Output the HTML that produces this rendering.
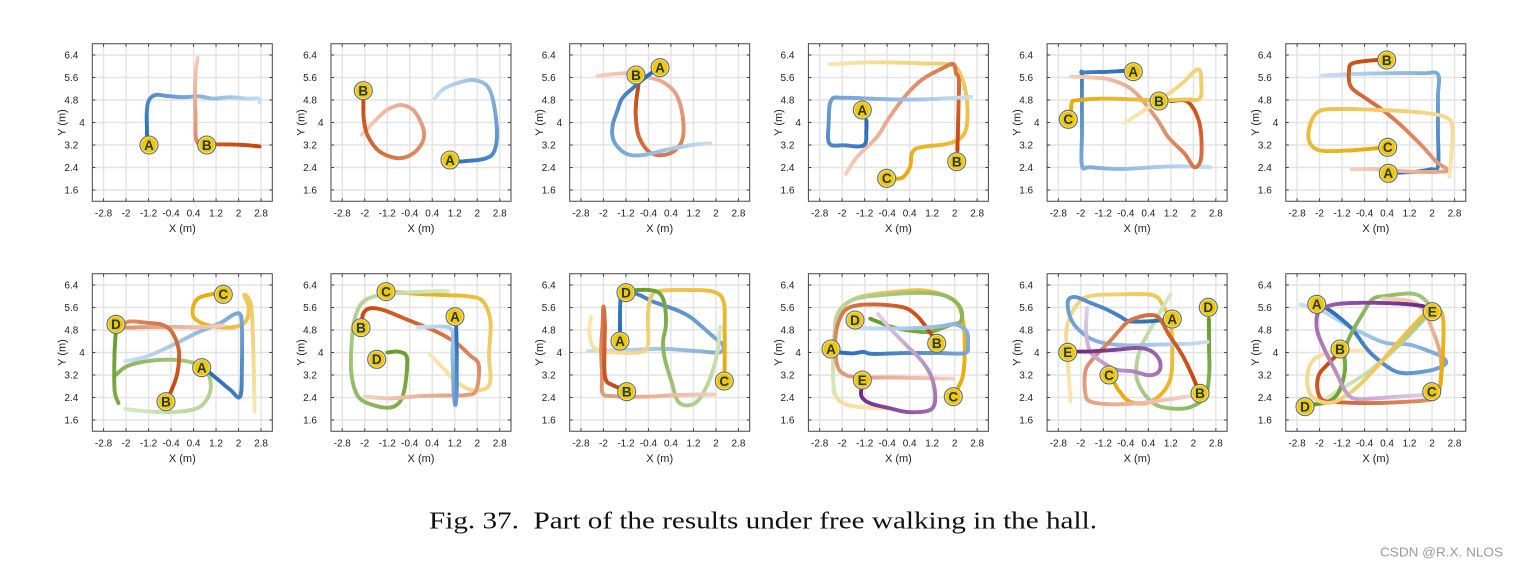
<!DOCTYPE html>
<html><head><meta charset="utf-8">
<style>
html,body{margin:0;padding:0;background:#fff;}
svg{display:block;}
.xt{font-family:"Liberation Sans",sans-serif;font-size:10px;fill:#222;text-anchor:middle;}
.yt{font-family:"Liberation Sans",sans-serif;font-size:10px;fill:#222;text-anchor:end;}
.xl{font-family:"Liberation Sans",sans-serif;font-size:11px;fill:#222;text-anchor:middle;}
.mk circle.o{fill:#f3c60a;stroke:#566e72;stroke-width:1.1;}
.mk circle.i{fill:none;stroke:#fff;stroke-opacity:.55;stroke-width:.8;}
.mk text{font-family:"Liberation Sans",sans-serif;font-weight:bold;font-size:13.5px;fill:#1b3b4a;text-anchor:middle;}
</style></head>
<body>
<svg width="1518" height="566" viewBox="0 0 1518 566" xmlns="http://www.w3.org/2000/svg">
<rect width="1518" height="566" fill="#fff"/>

<!-- Plot 1 -->
<g transform="translate(92.3,43.75)"><g id="p0"></g>
<g class="mk" transform="translate(56.7,101.25)"><circle class="o" r="9"/><circle class="i" r="8"/><text y="4.8">A</text></g>
<g class="mk" transform="translate(114.4,101.25)"><circle class="o" r="9"/><circle class="i" r="8"/><text y="4.8">B</text></g>
<text class="xt" x="11.25" y="172.6">-2.8</text><text class="xt" x="33.75" y="172.6">-2</text><text class="xt" x="56.25" y="172.6">-1.2</text><text class="xt" x="78.75" y="172.6">-0.4</text><text class="xt" x="101.25" y="172.6">0.4</text><text class="xt" x="123.75" y="172.6">1.2</text><text class="xt" x="146.25" y="172.6">2</text><text class="xt" x="168.75" y="172.6">2.8</text><text class="xl" x="90" y="188.3">X (m)</text><text class="yt" x="-14" y="14.85">6.4</text><text class="yt" x="-14" y="37.35">5.6</text><text class="yt" x="-14" y="59.85">4.8</text><text class="yt" x="-7.5" y="82.35">4</text><text class="yt" x="-14" y="104.85">3.2</text><text class="yt" x="-14" y="127.35">2.4</text><text class="yt" x="-14" y="149.85">1.6</text><text class="xl" transform="translate(-26.6,78.75) rotate(-90)">Y (m)</text>
</g>

<!-- Plot 2 -->
<g transform="translate(331,43.75)"><g id="p1"></g>
<g class="mk" transform="translate(32.3,46.9)"><circle class="o" r="9"/><circle class="i" r="8"/><text y="4.8">B</text></g>
<g class="mk" transform="translate(119,116.25)"><circle class="o" r="9"/><circle class="i" r="8"/><text y="4.8">A</text></g>
<text class="xt" x="11.25" y="172.6">-2.8</text><text class="xt" x="33.75" y="172.6">-2</text><text class="xt" x="56.25" y="172.6">-1.2</text><text class="xt" x="78.75" y="172.6">-0.4</text><text class="xt" x="101.25" y="172.6">0.4</text><text class="xt" x="123.75" y="172.6">1.2</text><text class="xt" x="146.25" y="172.6">2</text><text class="xt" x="168.75" y="172.6">2.8</text><text class="xl" x="90" y="188.3">X (m)</text><text class="yt" x="-14" y="14.85">6.4</text><text class="yt" x="-14" y="37.35">5.6</text><text class="yt" x="-14" y="59.85">4.8</text><text class="yt" x="-7.5" y="82.35">4</text><text class="yt" x="-14" y="104.85">3.2</text><text class="yt" x="-14" y="127.35">2.4</text><text class="yt" x="-14" y="149.85">1.6</text><text class="xl" transform="translate(-26.6,78.75) rotate(-90)">Y (m)</text>
</g>

<!-- Plot 3 -->
<g transform="translate(569.7,43.75)"><g id="p2"></g>
<g class="mk" transform="translate(66.3,31.25)"><circle class="o" r="9"/><circle class="i" r="8"/><text y="4.8">B</text></g>
<g class="mk" transform="translate(90.3,23.9)"><circle class="o" r="9"/><circle class="i" r="8"/><text y="4.8">A</text></g>
<text class="xt" x="11.25" y="172.6">-2.8</text><text class="xt" x="33.75" y="172.6">-2</text><text class="xt" x="56.25" y="172.6">-1.2</text><text class="xt" x="78.75" y="172.6">-0.4</text><text class="xt" x="101.25" y="172.6">0.4</text><text class="xt" x="123.75" y="172.6">1.2</text><text class="xt" x="146.25" y="172.6">2</text><text class="xt" x="168.75" y="172.6">2.8</text><text class="xl" x="90" y="188.3">X (m)</text><text class="yt" x="-14" y="14.85">6.4</text><text class="yt" x="-14" y="37.35">5.6</text><text class="yt" x="-14" y="59.85">4.8</text><text class="yt" x="-7.5" y="82.35">4</text><text class="yt" x="-14" y="104.85">3.2</text><text class="yt" x="-14" y="127.35">2.4</text><text class="yt" x="-14" y="149.85">1.6</text><text class="xl" transform="translate(-26.6,78.75) rotate(-90)">Y (m)</text>
</g>

<!-- Plot 4 -->
<g transform="translate(808.4,43.75)"><g id="p3"></g>
<g class="mk" transform="translate(53.9,66.25)"><circle class="o" r="9"/><circle class="i" r="8"/><text y="4.8">A</text></g>
<g class="mk" transform="translate(148.3,117.9)"><circle class="o" r="9"/><circle class="i" r="8"/><text y="4.8">B</text></g>
<g class="mk" transform="translate(78.3,134.6)"><circle class="o" r="9"/><circle class="i" r="8"/><text y="4.8">C</text></g>
<text class="xt" x="11.25" y="172.6">-2.8</text><text class="xt" x="33.75" y="172.6">-2</text><text class="xt" x="56.25" y="172.6">-1.2</text><text class="xt" x="78.75" y="172.6">-0.4</text><text class="xt" x="101.25" y="172.6">0.4</text><text class="xt" x="123.75" y="172.6">1.2</text><text class="xt" x="146.25" y="172.6">2</text><text class="xt" x="168.75" y="172.6">2.8</text><text class="xl" x="90" y="188.3">X (m)</text><text class="yt" x="-14" y="14.85">6.4</text><text class="yt" x="-14" y="37.35">5.6</text><text class="yt" x="-14" y="59.85">4.8</text><text class="yt" x="-7.5" y="82.35">4</text><text class="yt" x="-14" y="104.85">3.2</text><text class="yt" x="-14" y="127.35">2.4</text><text class="yt" x="-14" y="149.85">1.6</text><text class="xl" transform="translate(-26.6,78.75) rotate(-90)">Y (m)</text>
</g>

<!-- Plot 5 -->
<g transform="translate(1047.1,43.75)"><g id="p4"></g>
<g class="mk" transform="translate(86.2,27.9)"><circle class="o" r="9"/><circle class="i" r="8"/><text y="4.8">A</text></g>
<g class="mk" transform="translate(111.9,57.25)"><circle class="o" r="9"/><circle class="i" r="8"/><text y="4.8">B</text></g>
<g class="mk" transform="translate(21.2,75.6)"><circle class="o" r="9"/><circle class="i" r="8"/><text y="4.8">C</text></g>
<text class="xt" x="11.25" y="172.6">-2.8</text><text class="xt" x="33.75" y="172.6">-2</text><text class="xt" x="56.25" y="172.6">-1.2</text><text class="xt" x="78.75" y="172.6">-0.4</text><text class="xt" x="101.25" y="172.6">0.4</text><text class="xt" x="123.75" y="172.6">1.2</text><text class="xt" x="146.25" y="172.6">2</text><text class="xt" x="168.75" y="172.6">2.8</text><text class="xl" x="90" y="188.3">X (m)</text><text class="yt" x="-14" y="14.85">6.4</text><text class="yt" x="-14" y="37.35">5.6</text><text class="yt" x="-14" y="59.85">4.8</text><text class="yt" x="-7.5" y="82.35">4</text><text class="yt" x="-14" y="104.85">3.2</text><text class="yt" x="-14" y="127.35">2.4</text><text class="yt" x="-14" y="149.85">1.6</text><text class="xl" transform="translate(-26.6,78.75) rotate(-90)">Y (m)</text>
</g>

<!-- Plot 6 -->
<g transform="translate(1285.8,43.75)"><g id="p5"></g>
<g class="mk" transform="translate(100.9,16.25)"><circle class="o" r="9"/><circle class="i" r="8"/><text y="4.8">B</text></g>
<g class="mk" transform="translate(101.9,103.6)"><circle class="o" r="9"/><circle class="i" r="8"/><text y="4.8">C</text></g>
<g class="mk" transform="translate(102.5,129.6)"><circle class="o" r="9"/><circle class="i" r="8"/><text y="4.8">A</text></g>
<text class="xt" x="11.25" y="172.6">-2.8</text><text class="xt" x="33.75" y="172.6">-2</text><text class="xt" x="56.25" y="172.6">-1.2</text><text class="xt" x="78.75" y="172.6">-0.4</text><text class="xt" x="101.25" y="172.6">0.4</text><text class="xt" x="123.75" y="172.6">1.2</text><text class="xt" x="146.25" y="172.6">2</text><text class="xt" x="168.75" y="172.6">2.8</text><text class="xl" x="90" y="188.3">X (m)</text><text class="yt" x="-14" y="14.85">6.4</text><text class="yt" x="-14" y="37.35">5.6</text><text class="yt" x="-14" y="59.85">4.8</text><text class="yt" x="-7.5" y="82.35">4</text><text class="yt" x="-14" y="104.85">3.2</text><text class="yt" x="-14" y="127.35">2.4</text><text class="yt" x="-14" y="149.85">1.6</text><text class="xl" transform="translate(-26.6,78.75) rotate(-90)">Y (m)</text>
</g>

<!-- Plot 7 -->
<g transform="translate(92.3,273.75)"><g id="p6"></g>
<g class="mk" transform="translate(131,20.6)"><circle class="o" r="9"/><circle class="i" r="8"/><text y="4.8">C</text></g>
<g class="mk" transform="translate(23.7,50.6)"><circle class="o" r="9"/><circle class="i" r="8"/><text y="4.8">D</text></g>
<g class="mk" transform="translate(109.4,93.9)"><circle class="o" r="9"/><circle class="i" r="8"/><text y="4.8">A</text></g>
<g class="mk" transform="translate(73.7,127.9)"><circle class="o" r="9"/><circle class="i" r="8"/><text y="4.8">B</text></g>
<text class="xt" x="11.25" y="172.6">-2.8</text><text class="xt" x="33.75" y="172.6">-2</text><text class="xt" x="56.25" y="172.6">-1.2</text><text class="xt" x="78.75" y="172.6">-0.4</text><text class="xt" x="101.25" y="172.6">0.4</text><text class="xt" x="123.75" y="172.6">1.2</text><text class="xt" x="146.25" y="172.6">2</text><text class="xt" x="168.75" y="172.6">2.8</text><text class="xl" x="90" y="188.3">X (m)</text><text class="yt" x="-14" y="14.85">6.4</text><text class="yt" x="-14" y="37.35">5.6</text><text class="yt" x="-14" y="59.85">4.8</text><text class="yt" x="-7.5" y="82.35">4</text><text class="yt" x="-14" y="104.85">3.2</text><text class="yt" x="-14" y="127.35">2.4</text><text class="yt" x="-14" y="149.85">1.6</text><text class="xl" transform="translate(-26.6,78.75) rotate(-90)">Y (m)</text>
</g>

<!-- Plot 8 -->
<g transform="translate(331,273.75)"><g id="p7"></g>
<g class="mk" transform="translate(55,17.9)"><circle class="o" r="9"/><circle class="i" r="8"/><text y="4.8">C</text></g>
<g class="mk" transform="translate(124,42.9)"><circle class="o" r="9"/><circle class="i" r="8"/><text y="4.8">A</text></g>
<g class="mk" transform="translate(30,53.9)"><circle class="o" r="9"/><circle class="i" r="8"/><text y="4.8">B</text></g>
<g class="mk" transform="translate(45.7,85.6)"><circle class="o" r="9"/><circle class="i" r="8"/><text y="4.8">D</text></g>
<text class="xt" x="11.25" y="172.6">-2.8</text><text class="xt" x="33.75" y="172.6">-2</text><text class="xt" x="56.25" y="172.6">-1.2</text><text class="xt" x="78.75" y="172.6">-0.4</text><text class="xt" x="101.25" y="172.6">0.4</text><text class="xt" x="123.75" y="172.6">1.2</text><text class="xt" x="146.25" y="172.6">2</text><text class="xt" x="168.75" y="172.6">2.8</text><text class="xl" x="90" y="188.3">X (m)</text><text class="yt" x="-14" y="14.85">6.4</text><text class="yt" x="-14" y="37.35">5.6</text><text class="yt" x="-14" y="59.85">4.8</text><text class="yt" x="-7.5" y="82.35">4</text><text class="yt" x="-14" y="104.85">3.2</text><text class="yt" x="-14" y="127.35">2.4</text><text class="yt" x="-14" y="149.85">1.6</text><text class="xl" transform="translate(-26.6,78.75) rotate(-90)">Y (m)</text>
</g>

<!-- Plot 9 -->
<g transform="translate(569.7,273.75)"><g id="p8"></g>
<g class="mk" transform="translate(56.3,18.9)"><circle class="o" r="9"/><circle class="i" r="8"/><text y="4.8">D</text></g>
<g class="mk" transform="translate(50.3,67.25)"><circle class="o" r="9"/><circle class="i" r="8"/><text y="4.8">A</text></g>
<g class="mk" transform="translate(154.6,107.25)"><circle class="o" r="9"/><circle class="i" r="8"/><text y="4.8">C</text></g>
<g class="mk" transform="translate(57,117.9)"><circle class="o" r="9"/><circle class="i" r="8"/><text y="4.8">B</text></g>
<text class="xt" x="11.25" y="172.6">-2.8</text><text class="xt" x="33.75" y="172.6">-2</text><text class="xt" x="56.25" y="172.6">-1.2</text><text class="xt" x="78.75" y="172.6">-0.4</text><text class="xt" x="101.25" y="172.6">0.4</text><text class="xt" x="123.75" y="172.6">1.2</text><text class="xt" x="146.25" y="172.6">2</text><text class="xt" x="168.75" y="172.6">2.8</text><text class="xl" x="90" y="188.3">X (m)</text><text class="yt" x="-14" y="14.85">6.4</text><text class="yt" x="-14" y="37.35">5.6</text><text class="yt" x="-14" y="59.85">4.8</text><text class="yt" x="-7.5" y="82.35">4</text><text class="yt" x="-14" y="104.85">3.2</text><text class="yt" x="-14" y="127.35">2.4</text><text class="yt" x="-14" y="149.85">1.6</text><text class="xl" transform="translate(-26.6,78.75) rotate(-90)">Y (m)</text>
</g>

<!-- Plot 10 -->
<g transform="translate(808.4,273.75)"><g id="p9"></g>
<g class="mk" transform="translate(46.6,46.25)"><circle class="o" r="9"/><circle class="i" r="8"/><text y="4.8">D</text></g>
<g class="mk" transform="translate(22.6,75.25)"><circle class="o" r="9"/><circle class="i" r="8"/><text y="4.8">A</text></g>
<g class="mk" transform="translate(128.3,69.6)"><circle class="o" r="9"/><circle class="i" r="8"/><text y="4.8">B</text></g>
<g class="mk" transform="translate(53.9,106.25)"><circle class="o" r="9"/><circle class="i" r="8"/><text y="4.8">E</text></g>
<g class="mk" transform="translate(144.9,122.9)"><circle class="o" r="9"/><circle class="i" r="8"/><text y="4.8">C</text></g>
<text class="xt" x="11.25" y="172.6">-2.8</text><text class="xt" x="33.75" y="172.6">-2</text><text class="xt" x="56.25" y="172.6">-1.2</text><text class="xt" x="78.75" y="172.6">-0.4</text><text class="xt" x="101.25" y="172.6">0.4</text><text class="xt" x="123.75" y="172.6">1.2</text><text class="xt" x="146.25" y="172.6">2</text><text class="xt" x="168.75" y="172.6">2.8</text><text class="xl" x="90" y="188.3">X (m)</text><text class="yt" x="-14" y="14.85">6.4</text><text class="yt" x="-14" y="37.35">5.6</text><text class="yt" x="-14" y="59.85">4.8</text><text class="yt" x="-7.5" y="82.35">4</text><text class="yt" x="-14" y="104.85">3.2</text><text class="yt" x="-14" y="127.35">2.4</text><text class="yt" x="-14" y="149.85">1.6</text><text class="xl" transform="translate(-26.6,78.75) rotate(-90)">Y (m)</text>
</g>

<!-- Plot 11 -->
<g transform="translate(1047.1,273.75)"><g id="p10"></g>
<g class="mk" transform="translate(125.2,45.25)"><circle class="o" r="9"/><circle class="i" r="8"/><text y="4.8">A</text></g>
<g class="mk" transform="translate(161.2,33.6)"><circle class="o" r="9"/><circle class="i" r="8"/><text y="4.8">D</text></g>
<g class="mk" transform="translate(20.6,78.6)"><circle class="o" r="9"/><circle class="i" r="8"/><text y="4.8">E</text></g>
<g class="mk" transform="translate(61.9,101.25)"><circle class="o" r="9"/><circle class="i" r="8"/><text y="4.8">C</text></g>
<g class="mk" transform="translate(152.9,119.6)"><circle class="o" r="9"/><circle class="i" r="8"/><text y="4.8">B</text></g>
<text class="xt" x="11.25" y="172.6">-2.8</text><text class="xt" x="33.75" y="172.6">-2</text><text class="xt" x="56.25" y="172.6">-1.2</text><text class="xt" x="78.75" y="172.6">-0.4</text><text class="xt" x="101.25" y="172.6">0.4</text><text class="xt" x="123.75" y="172.6">1.2</text><text class="xt" x="146.25" y="172.6">2</text><text class="xt" x="168.75" y="172.6">2.8</text><text class="xl" x="90" y="188.3">X (m)</text><text class="yt" x="-14" y="14.85">6.4</text><text class="yt" x="-14" y="37.35">5.6</text><text class="yt" x="-14" y="59.85">4.8</text><text class="yt" x="-7.5" y="82.35">4</text><text class="yt" x="-14" y="104.85">3.2</text><text class="yt" x="-14" y="127.35">2.4</text><text class="yt" x="-14" y="149.85">1.6</text><text class="xl" transform="translate(-26.6,78.75) rotate(-90)">Y (m)</text>
</g>

<!-- Plot 12 -->
<g transform="translate(1285.8,273.75)"><g id="p11"></g>
<g class="mk" transform="translate(30.9,30.6)"><circle class="o" r="9"/><circle class="i" r="8"/><text y="4.8">A</text></g>
<g class="mk" transform="translate(146.5,37.9)"><circle class="o" r="9"/><circle class="i" r="8"/><text y="4.8">E</text></g>
<g class="mk" transform="translate(54.2,75.25)"><circle class="o" r="9"/><circle class="i" r="8"/><text y="4.8">B</text></g>
<g class="mk" transform="translate(145.9,117.9)"><circle class="o" r="9"/><circle class="i" r="8"/><text y="4.8">C</text></g>
<g class="mk" transform="translate(19.2,132.9)"><circle class="o" r="9"/><circle class="i" r="8"/><text y="4.8">D</text></g>
<text class="xt" x="11.25" y="172.6">-2.8</text><text class="xt" x="33.75" y="172.6">-2</text><text class="xt" x="56.25" y="172.6">-1.2</text><text class="xt" x="78.75" y="172.6">-0.4</text><text class="xt" x="101.25" y="172.6">0.4</text><text class="xt" x="123.75" y="172.6">1.2</text><text class="xt" x="146.25" y="172.6">2</text><text class="xt" x="168.75" y="172.6">2.8</text><text class="xl" x="90" y="188.3">X (m)</text><text class="yt" x="-14" y="14.85">6.4</text><text class="yt" x="-14" y="37.35">5.6</text><text class="yt" x="-14" y="59.85">4.8</text><text class="yt" x="-7.5" y="82.35">4</text><text class="yt" x="-14" y="104.85">3.2</text><text class="yt" x="-14" y="127.35">2.4</text><text class="yt" x="-14" y="149.85">1.6</text><text class="xl" transform="translate(-26.6,78.75) rotate(-90)">Y (m)</text>
</g>

<text x="429" y="528.5" font-family="Liberation Serif, serif" font-size="24" fill="#111" textLength="668" lengthAdjust="spacingAndGlyphs">Fig. 37.&#160; Part of the results under free walking in the hall.</text>
<text x="1380" y="556.5" font-family="Liberation Sans, sans-serif" font-size="13" fill="#9a9a9a" textLength="123" lengthAdjust="spacingAndGlyphs">CSDN @R.X. NLOS</text>
</svg>

<script>
(function(){
var NS="http://www.w3.org/2000/svg";
var GRID=[11.25,33.75,56.25,78.75,101.25,123.75,146.25,168.75];
var gd="",td="";
GRID.forEach(function(p){gd+="M"+p+" 0V157.5";td+="M"+p+" 157.5v-3M"+p+" 0v3";});
GRID.slice(0,7).forEach(function(p){gd+="M0 "+p+"H180";td+="M0 "+p+"h3M180 "+p+"h-3";});
function el(tag,a,par){var e=document.createElementNS(NS,tag);for(var k in a)e.setAttribute(k,a[k]);par.appendChild(e);return e;}
var COL={b:[[202,224,243],[40,110,184]],r:[[244,208,192],[200,70,10]],y:[[248,231,180],[230,170,10]],g:[[216,233,196],[102,156,40]],p:[[226,206,232],[112,40,132]]};
var S=[
[0,'b',0,1,[2.75,4.72,2.72,4.85,2.3,4.85,1.7,4.9,1.1,4.85,0.6,4.93,0.0,4.9,-0.6,4.95,-0.95,4.98,-1.18,4.8,-1.26,4.4,-1.26,3.8,-1.25,3.4]],
[0,'r',0,0.55,[0.55,6.3,0.48,5.8,0.45,5.0,0.47,4.2,0.48,3.5,0.58,3.25,0.9,3.22]],
[0,'r',0.85,1,[0.9,3.22,1.6,3.22,2.2,3.2,2.75,3.15]],
[1,'r',0,1,[-2.11,3.56,-1.6,4.1,-1.2,4.45,-0.75,4.62,-0.35,4.5,-0.1,4.2,0.1,3.7,0.05,3.3,-0.28,2.9,-0.81,2.73,-1.46,2.96,-1.88,3.5,-2.03,4.09,-2.05,4.74,-2.05,5.0]],
[1,'b',0,1,[0.49,4.86,0.79,5.18,1.26,5.39,1.83,5.51,2.32,5.33,2.56,4.8,2.7,3.73,2.62,3.02,2.32,2.73,1.61,2.63,1.1,2.61]],
[2,'r',0,1,[-2.21,5.65,-1.68,5.72,-0.97,5.75,-0.5,5.63,0.09,5.45,0.56,5.04,0.8,4.33,0.83,3.5,0.56,3.02,0.09,2.84,-0.38,2.96,-0.74,3.5,-0.85,4.21,-0.83,4.8,-0.76,5.33,-0.8,5.6]],
[2,'b',0,1,[1.8,3.26,1.15,3.2,0.33,3.05,-0.62,2.84,-1.21,2.9,-1.62,3.32,-1.68,3.85,-1.5,4.44,-1.33,4.86,-0.97,5.21,-0.62,5.51,-0.25,5.8]],
[3,'y',0,1,[-2.45,6.07,-0.89,6.14,0.85,6.1,1.9,6.04,2.24,5.63,2.42,4.91,2.45,4.08,2.3,3.54,1.78,3.25,0.85,3.13,0.5,2.95,0.41,2.41,0.16,2.05,-0.1,2.0]],
[3,'r',0,1,[-1.87,2.17,-1.47,2.77,-0.77,3.48,-0.31,4.2,0.27,4.97,0.85,5.53,1.55,5.92,1.95,6.08,2.05,5.75,2.15,5.51,2.13,4.32,2.1,3.0]],
[3,'b',0,1,[2.59,4.91,0.85,4.82,-0.54,4.83,-1.93,4.88,-2.39,4.79,-2.48,3.96,-2.45,3.25,-1.93,3.19,-1.23,3.19,-1.14,3.72,-1.14,4.08]],
[4,'b',0,1,[2.62,2.41,1.23,2.44,-0.51,2.35,-1.67,2.41,-1.96,2.47,-1.96,3.72,-1.96,5.63,-1.91,5.77,-1.09,5.8,-0.4,5.84]],
[4,'r',0,1,[-2.37,5.63,-1.67,5.6,-0.98,5.53,-0.16,5.15,0.65,4.2,1.11,3.48,1.69,2.89,2.04,2.41,2.28,2.77,2.22,3.96,1.81,4.73,1.2,4.76]],
[4,'y',0,1,[-0.45,3.98,0.42,4.55,1.46,5.27,2.16,5.89,2.28,5.39,2.22,4.85,1.69,4.82,0.65,4.79,-1.09,4.85,-2.14,4.79,-2.31,4.73,-2.35,4.44]],
[5,'b',0,1,[-1.91,5.67,-0.83,5.72,0.36,5.75,1.67,5.75,2.21,5.71,2.21,4.92,2.21,3.73,2.21,2.43,1.97,2.34,1.43,2.25,0.8,2.22]],
[5,'r',0,1,[-0.86,2.34,0.0,2.34,1.31,2.25,2.27,2.25,2.56,2.31,2.15,2.61,1.67,3.14,0.95,3.85,0.24,4.45,-0.36,4.86,-0.89,5.28,-0.95,5.87,-0.83,6.1,-0.24,6.2,0.2,6.22]],
[5,'y',0,1,[2.62,2.08,2.68,2.79,2.72,3.85,2.5,4.18,1.67,4.35,0.0,4.45,-1.43,4.48,-2.03,4.39,-2.32,3.97,-2.38,3.38,-2.03,3.02,-1.07,3.0,0.2,3.1]],
[6,'g',0,0.7,[-2.03,1.99,-1.14,1.9,-0.07,1.9,0.64,2.08,0.99,2.61,0.93,3.21,0.52,3.59,-0.31,3.74,-1.26,3.69,-1.97,3.51,-2.35,3.21]],
[6,'g',0.8,1,[-2.27,2.2,-2.4,2.6,-2.42,3.4,-2.4,4.2,-2.35,4.9]],
[6,'y',0,1,[2.57,1.9,2.55,3.0,2.52,4.2,2.48,5.3,2.4,5.85,2.2,6.05,2.36,5.6,2.25,5.1,1.8,4.9,1.0,4.95,0.45,5.2,0.38,5.6,0.6,5.95,1.2,6.1]],
[6,'b',0,1,[-2.03,3.69,-1.26,3.86,-0.31,4.28,0.52,4.7,1.35,5.05,1.83,5.35,2.06,5.35,2.12,4.88,2.12,3.57,2.06,2.44,1.71,2.67,1.35,2.97,0.99,3.27]],
[6,'r',0,1,[1.47,4.97,0.64,4.9,-0.31,4.91,-1.5,4.9,-2.1,4.9,-1.9,5.1,-1.2,5.05,-0.7,4.98,-0.35,4.7,-0.12,4.04,-0.19,3.21,-0.45,2.5]],
[7,'y',0,1,[0.31,3.94,0.79,3.44,1.26,2.96,1.79,2.67,2.32,2.73,2.47,3.08,2.42,3.91,2.47,5.1,2.21,5.81,1.73,5.99,0.9,6.04,-0.04,6.08,-0.9,6.15]],
[7,'g',0,1,[0.96,6.19,-0.04,6.16,-0.87,6.1,-1.46,6.04,-2.05,5.81,-2.35,5.22,-2.47,4.27,-2.47,3.2,-2.23,2.43,-1.7,2.13,-1.11,2.04,-0.75,2.25,-0.58,2.73,-0.49,3.56,-0.54,3.91,-0.81,4.03,-1.2,4.0]],
[7,'r',0,1,[-1.99,2.43,-1.11,2.37,-0.04,2.45,0.67,2.47,1.61,2.49,1.97,2.67,2.05,3.56,1.73,3.91,1.26,4.33,0.55,4.74,-0.52,5.18,-1.34,5.51,-1.82,5.57,-2.05,5.39,-2.1,5.1]],
[7,'b',0,1,[-0.1,4.9,0.67,4.92,1.02,4.88,1.14,4.62,1.12,4.03,1.14,3.32,1.16,2.61,1.22,2.13,1.27,2.6,1.27,3.4,1.27,4.2,1.25,4.9]],
[8,'b',0,1,[-2.56,4.05,-1.07,4.09,0.12,4.13,1.31,4.05,2.15,4.01,2.24,4.27,1.91,4.56,1.43,4.98,1.07,5.27,0.6,5.51,-0.24,5.81,-0.71,6.04,-1.19,6.19,-1.37,6.04,-1.41,5.45,-1.41,4.74]],
[8,'y',0,1,[-2.44,5.27,-2.5,4.74,-2.32,4.15,-1.67,4.01,-0.71,4.01,-0.42,4.27,-0.42,5.33,-0.3,5.99,0.0,6.19,1.07,6.22,1.91,6.16,2.27,5.81,2.31,4.74,2.31,3.56,2.3,3.2]],
[8,'g',0,1,[2.15,4.92,2.03,3.91,1.79,3.08,1.43,2.37,1.07,2.13,0.66,2.25,0.42,2.96,0.18,3.79,0.12,4.39,0.22,4.98,0.18,5.69,0.0,6.1,-0.36,6.22,-0.83,6.22]],
[8,'r',0,1,[1.97,2.51,0.72,2.49,-0.48,2.43,-1.67,2.45,-2.03,2.55,-2.05,3.2,-2.08,4.15,-2.03,4.98,-2.0,5.63,-1.95,5.0,-1.97,3.5,-1.9,3.0,-1.67,2.84,-1.35,2.7]],
[9,'y',0,1,[-0.32,2.0,-1.14,2.04,-1.83,2.14,-2.18,2.38,-2.3,2.8,-2.32,3.57,-2.24,4.76,-2.07,5.47,-1.6,5.89,-0.9,6.07,0.26,6.19,0.84,6.21,1.54,6.07,2.07,5.77,2.3,5.11,2.36,4.16,2.3,3.21,2.1,2.7]],
[9,'g',0,1,[-2.3,2.55,-2.32,3.4,-2.28,4.6,-2.15,5.4,-1.6,5.88,-0.5,6.05,0.84,6.12,1.7,6.0,2.2,5.6,2.22,5.11,1.85,4.98,1.15,4.74,0.5,4.77,-0.2,4.9,-1.0,5.2]],
[9,'r',0,1,[1.96,3.07,0.84,3.09,-0.32,3.11,-1.25,3.11,-1.89,3.21,-2.18,3.57,-2.24,4.52,-2.07,5.23,-1.72,5.61,-0.9,5.71,0.15,5.61,0.61,5.35,0.96,4.94,1.2,4.6]],
[9,'b',0,1,[-1.48,4.88,-0.32,4.85,0.84,4.88,1.54,4.94,2.01,5.0,2.42,4.76,2.47,4.28,2.36,3.98,1.43,3.98,0.26,3.98,-0.9,3.95,-1.25,4.02,-1.6,3.97,-2.1,4.0]],
[9,'p',0,1,[-0.73,5.38,-0.32,4.88,0.26,4.28,0.84,3.69,1.19,3.09,1.31,2.38,1.13,1.96,0.38,1.88,-0.32,2.02,-1.02,2.2,-1.31,2.44,-1.31,2.75]],
[10,'y',0,1,[-2.37,2.26,-2.43,3.21,-2.51,4.16,-2.48,4.99,-2.13,5.71,-1.67,6.01,-0.5,6.07,0.55,6.04,0.9,5.71,1.19,4.99,1.25,4.04,1.19,3.09,0.84,2.5,0.32,2.2,-0.27,2.26,-0.62,2.61,-0.8,2.9]],
[10,'g',0,1,[1.19,6.07,0.9,5.59,0.43,4.76,0.08,4.04,-0.03,3.21,0.2,2.61,0.67,2.14,1.37,2.0,1.95,2.08,2.42,2.44,2.56,3.21,2.56,4.16,2.55,5.2]],
[10,'b',0,1,[2.51,4.38,1.83,4.31,0.67,4.28,-0.5,4.26,-1.43,4.4,-2.02,4.76,-2.37,5.23,-2.46,5.83,-2.19,5.97,-1.67,5.77,-1.08,5.53,-0.62,5.29,-0.27,5.11,0.43,5.11,0.9,5.15]],
[10,'r',0,1,[1.83,2.44,1.02,2.32,0.08,2.2,-0.97,2.16,-1.67,2.26,-1.84,2.55,-1.84,3.33,-1.55,3.8,-0.97,4.4,-0.38,5.05,-0.03,5.23,0.43,5.33,0.78,5.23,1.13,4.64,1.6,3.92,1.95,3.21,2.1,2.85]],
[10,'p',0,1,[-1.78,5.59,-1.81,4.76,-1.67,4.04,-1.2,3.63,-0.73,3.39,-0.15,3.33,0.43,3.19,0.78,3.33,0.81,3.69,0.55,4.02,0.08,4.16,-0.73,4.1,-1.6,4.04,-2.1,4.03]],
[11,'b',0,1,[-2.68,5.71,-1.91,5.47,-1.07,5.0,-0.36,4.64,0.36,4.34,1.19,4.28,1.91,4.04,2.33,3.86,2.5,3.63,2.15,3.42,1.55,3.3,0.95,3.27,0.48,3.45,-0.24,4.04,-0.83,4.82,-1.43,5.35,-1.8,5.6]],
[11,'g',0,1,[-1.91,2.26,-1.19,2.73,-0.24,3.33,0.72,4.16,1.43,4.88,1.91,5.47,1.79,5.83,1.31,6.09,0.36,6.01,-0.12,5.89,-0.48,5.35,-0.89,4.64,-1.1,4.04,-1.1,3.33,-1.31,2.61,-1.67,2.26,-2.2,2.15]],
[11,'r',0,1,[0.24,5.92,1.19,5.83,1.67,5.53,2.03,4.76,2.27,4.04,2.33,3.33,2.21,2.5,1.91,2.32,0.95,2.24,-0.24,2.2,-1.43,2.24,-1.91,2.32,-2.08,2.73,-2.02,3.21,-1.72,3.57,-1.4,3.9]],
[11,'y',0,1,[-0.42,4.02,-0.95,4.07,-1.79,3.95,-2.26,3.69,-2.44,3.09,-2.32,2.5,-1.91,2.24,-1.43,2.26,-0.71,2.73,0.0,3.45,0.72,4.28,1.43,5.06,1.91,5.53,2.2,5.55,2.39,5.23,2.39,4.04,2.3,2.85]],
[11,'p',0,1,[1.79,2.5,0.95,2.44,0.12,2.38,-0.71,2.35,-1.07,2.61,-1.43,3.33,-1.79,4.04,-2.08,4.76,-2.08,5.35,-1.84,5.59,-1.31,5.73,-0.24,5.77,0.95,5.73,1.7,5.65]]
];
var groups={};
for(var i=0;i<12;i++){
  var g=document.getElementById('p'+i);
  el('rect',{width:180,height:157.5,fill:'#fff'},g);
  el('path',{d:gd,stroke:'#e3e3e3','stroke-width':1.4,fill:'none'},g);
  groups[i]=el('g',{},g);
}
function cr(P){
  var out=[],n=P.length;
  for(var i=0;i<n-1;i++){
    var p0=P[Math.max(i-1,0)],p1=P[i],p2=P[i+1],p3=P[Math.min(i+2,n-1)];
    var d=Math.hypot(p2[0]-p1[0],p2[1]-p1[1]);
    var st=Math.max(2,Math.ceil(d/2));
    for(var k=0;k<st;k++){
      var t=k/st,t2=t*t,t3=t2*t;
      var x=0.5*((2*p1[0])+(-p0[0]+p2[0])*t+(2*p0[0]-5*p1[0]+4*p2[0]-p3[0])*t2+(-p0[0]+3*p1[0]-3*p2[0]+p3[0])*t3);
      var y=0.5*((2*p1[1])+(-p0[1]+p2[1])*t+(2*p0[1]-5*p1[1]+4*p2[1]-p3[1])*t2+(-p0[1]+3*p1[1]-3*p2[1]+p3[1])*t3);
      out.push([x,y]);
    }
  }
  out.push(P[n-1]);
  return out;
}
S.forEach(function(s){
  var a=s[4],P=[];
  for(var i=0;i<a.length;i+=2)P.push([(a[i]+3.2)*28.125,(6.8-a[i+1])*28.125]);
  var Q=cr(P),cum=[0];
  for(var i=1;i<Q.length;i++)cum.push(cum[i-1]+Math.hypot(Q[i][0]-Q[i-1][0],Q[i][1]-Q[i-1][1]));
  var L=cum[cum.length-1]||1,c=COL[s[1]],g=groups[s[0]];
  for(var i=1;i<Q.length;i++){
    var f=s[2]+(s[3]-s[2])*((cum[i]+cum[i-1])/2/L);
    var r=Math.round(c[0][0]+(c[1][0]-c[0][0])*f),gg=Math.round(c[0][1]+(c[1][1]-c[0][1])*f),b=Math.round(c[0][2]+(c[1][2]-c[0][2])*f);
    el('line',{x1:Q[i-1][0].toFixed(2),y1:Q[i-1][1].toFixed(2),x2:Q[i][0].toFixed(2),y2:Q[i][1].toFixed(2),stroke:'rgb('+r+','+gg+','+b+')','stroke-width':3.8,'stroke-linecap':'round'},g);
  }
});
for(var i=0;i<12;i++){
  var g=document.getElementById('p'+i);
  el('rect',{width:180,height:157.5,fill:'none',stroke:'#444','stroke-width':1},g);
  el('path',{d:td,stroke:'#444','stroke-width':1,fill:'none'},g);
}
})();
</script>
</body></html>
